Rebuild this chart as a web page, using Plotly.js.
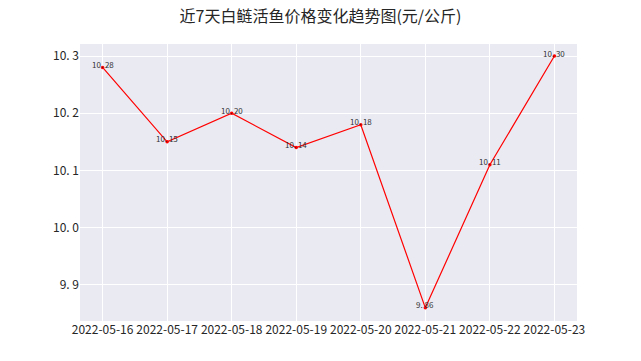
<!DOCTYPE html>
<html><head><meta charset="utf-8">
<script src="https://cdn.plot.ly/plotly-3.0.1.min.js"></script>
<style>body{margin:0;padding:0;background:#fff}#c{width:641px;height:361px}</style>
</head><body><div id="c"></div>
<script>
const dates = ["2022-05-16","2022-05-17","2022-05-18","2022-05-19","2022-05-20","2022-05-21","2022-05-22","2022-05-23"];
const prices = [10.28, 10.15, 10.20, 10.14, 10.18, 9.86, 10.11, 10.30];
const yTicks = [9.9, 10.0, 10.1, 10.2, 10.3];
const yTickText = ["9. 9", "10. 0", "10. 1", "10. 2", "10. 3"];
const FONT = '"Noto Sans CJK SC", "DejaVu Sans", sans-serif';

const trace = {
  x: dates, y: prices, type: 'scatter', mode: 'lines+markers',
  line: {color: '#ff0000', width: 1.2},
  marker: {color: '#ff0000', size: 3.5},
  hoverinfo: 'none'
};
const annotations = dates.map((d, i) => ({
  x: d, y: prices[i], xref: 'x', yref: 'y',
  text: prices[i].toFixed(2).replace('.', '. '),
  showarrow: false, yanchor: 'middle', yshift: 3,
  font: {family: FONT, size: 8, color: '#333333'}
}));
const layout = {
  width: 641, height: 361,
  margin: {l: 80, r: 64, t: 44, b: 40},
  paper_bgcolor: '#ffffff', plot_bgcolor: '#eaeaf2',
  title: {text: '近7天白鲢活鱼价格变化趋势图(元/公斤)', x: 0.5, xanchor: 'center', y: 0.955, yanchor: 'middle',
    font: {family: FONT, size: 16, color: '#262626'}},
  xaxis: {type: 'category', range: [-0.35, 7.35], showgrid: true, gridcolor: '#ffffff', gridwidth: 1,
    zeroline: false, showline: false, ticks: '', tickfont: {family: FONT, size: 12, color: '#262626'}, ticklen: 0},
  yaxis: {range: [9.837, 10.321], tickvals: yTicks, ticktext: yTickText, showgrid: true, gridcolor: '#ffffff', gridwidth: 1,
    zeroline: false, showline: false, ticks: '', tickfont: {family: FONT, size: 12, color: '#262626'}},
  annotations: annotations,
  showlegend: false
};
Plotly.newPlot('c', [trace], layout, {staticPlot: true, displayModeBar: false});
</script></body></html>
